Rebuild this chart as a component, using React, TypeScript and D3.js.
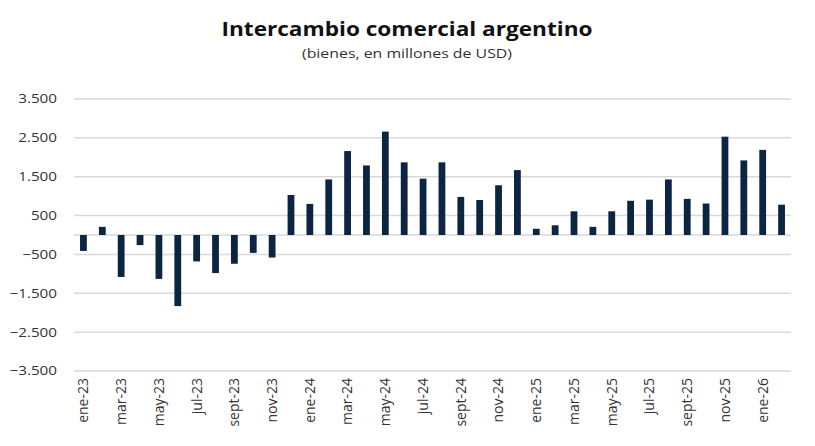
import React from 'react';
import { scaleBand, scaleLinear, formatLocale } from 'd3';

const months = [
  'ene-23', 'feb-23', 'mar-23', 'abr-23', 'may-23', 'jun-23', 'jul-23', 'ago-23', 'sept-23', 'oct-23', 'nov-23', 'dic-23',
  'ene-24', 'feb-24', 'mar-24', 'abr-24', 'may-24', 'jun-24', 'jul-24', 'ago-24', 'sept-24', 'oct-24', 'nov-24', 'dic-24',
  'ene-25', 'feb-25', 'mar-25', 'abr-25', 'may-25', 'jun-25', 'jul-25', 'ago-25', 'sept-25', 'oct-25', 'nov-25', 'dic-25',
  'ene-26', 'feb-26',
];

// saldo comercial mensual (millones de USD)
const balance = [
  -410, 210, -1080, -260, -1130, -1830, -680, -980, -740, -460, -580, 1030,
  800, 1430, 2160, 1790, 2660, 1870, 1450, 1870, 980, 900, 1280, 1670,
  160, 250, 610, 210, 610, 880, 910, 1430, 930, 810, 2530, 1920,
  2190, 780,
];

const yTicks = [3500, 2500, 1500, 500, -500, -1500, -2500, -3500];
const xTickLabels = months.filter((_, i) => i % 2 === 0);

const fmt = formatLocale({ decimal: ',', thousands: '.', grouping: [3], currency: ['$', ''] }).format(',');

const W = 815;
const H = 446;
const left = 74;
const right = 791;
const top = 99;
const bottom = 371;

const App = () => {
  const x = scaleBand<string>().domain(months).range([left, right]).paddingInner(0.64).paddingOuter(0.32);
  const y = scaleLinear().domain([-3500, 3500]).range([bottom, top]);
  const font = "'Open Sans', sans-serif";

  return (
    <svg width={W} height={H} style={{ position: 'absolute', left: 0, top: 0, background: '#fff' }}>
      <text x={407} y={36} textAnchor="middle" fontFamily={font} fontWeight={700} fontSize={19}
        textLength={371} lengthAdjust="spacingAndGlyphs" fill="#111">
        Intercambio comercial argentino
      </text>
      <text x={407} y={58} textAnchor="middle" fontFamily={font} fontSize={13.5}
        textLength={210} lengthAdjust="spacingAndGlyphs" fill="#333">
        (bienes, en millones de USD)
      </text>

      {/* grilla */}
      {[...yTicks, 0].map((t) => (
        <line key={t} x1={left} x2={right} y1={y(t)} y2={y(t)} stroke="#d9d9d9" strokeWidth={1.5} />
      ))}
      {yTicks.map((t) => (
        <text key={t} transform={`translate(57,${y(t)}) scale(1.19,1)`} dy="0.35em" textAnchor="end"
          fontFamily={font} fontSize={12.8} fill="#333">
          {fmt(t)}
        </text>
      ))}

      {/* barras */}
      {balance.map((v, i) => (
        <rect
          key={months[i]}
          x={x(months[i])}
          width={x.bandwidth()}
          y={y(Math.max(0, v))}
          height={Math.abs(y(v) - y(0))}
          fill="#0c2541"
        />
      ))}

      {xTickLabels.map((m) => {
        const cx = (x(m) as number) + x.bandwidth() / 2;
        return (
          <text
            key={m}
            transform={`translate(${cx},378) rotate(-90)`}
            dy="0.35em"
            textAnchor="end"
            fontFamily={font}
            fontSize={14}
            fill="#333"
          >
            {m}
          </text>
        );
      })}
    </svg>
  );
};

export default App;
